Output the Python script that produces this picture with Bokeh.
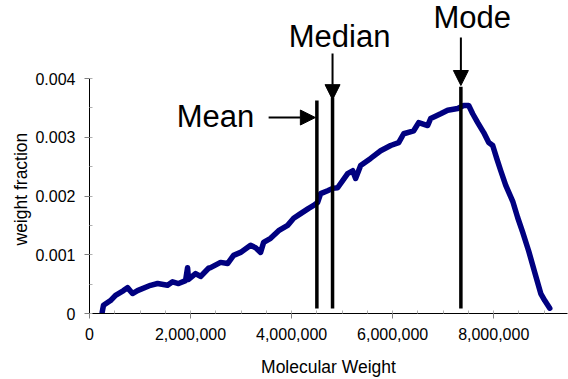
from bokeh.plotting import figure
from bokeh.models import (Range1d, SingleIntervalTicker, CustomJSTickFormatter,
                          Label, Arrow, NormalHead, ColumnDataSource, Title)
from bokeh.embed import file_html
from bokeh.resources import INLINE

# Molecular weight distribution (weight fraction vs molecular weight)
mw = [0.251e6, 0.277e6, 0.416e6, 0.515e6, 0.673e6, 0.752e6, 0.851e6, 0.950e6,
      1.208e6, 1.347e6, 1.545e6, 1.644e6, 1.762e6, 1.901e6, 1.941e6, 1.960e6,
      2.099e6, 2.198e6, 2.356e6, 2.396e6, 2.594e6, 2.733e6, 2.851e6, 2.990e6,
      3.188e6, 3.287e6, 3.386e6, 3.446e6, 3.584e6, 3.743e6, 3.921e6, 4.040e6,
      4.178e6, 4.337e6, 4.436e6, 4.515e6, 4.574e6, 4.713e6, 4.812e6, 4.911e6,
      5.109e6, 5.208e6, 5.267e6, 5.366e6, 5.564e6, 5.762e6, 5.960e6, 6.119e6,
      6.218e6, 6.416e6, 6.515e6, 6.693e6, 6.752e6, 6.950e6, 7.089e6, 7.287e6,
      7.406e6, 7.505e6, 7.584e6, 7.683e6, 7.802e6, 7.901e6, 7.980e6, 8.059e6,
      8.139e6, 8.238e6, 8.376e6, 8.475e6, 8.574e6, 8.693e6, 8.812e6, 8.931e6,
      9.010e6, 9.109e6]
weight_fraction = [0.00002, 0.00014, 0.00022, 0.00031, 0.00039, 0.00044, 0.00034, 0.00039,
                   0.00048, 0.00051, 0.00048, 0.00054, 0.00051, 0.00056, 0.00078, 0.00058,
                   0.00068, 0.00063, 0.00077, 0.00078, 0.00087, 0.00085, 0.00099, 0.00104,
                   0.00116, 0.00112, 0.00104, 0.00121, 0.00128, 0.00141, 0.00150, 0.00162,
                   0.00170, 0.00179, 0.00184, 0.00189, 0.00204, 0.00209, 0.00213, 0.00214,
                   0.00238, 0.00243, 0.00230, 0.00252, 0.00264, 0.00277, 0.00286, 0.00291,
                   0.00306, 0.00311, 0.00325, 0.00320, 0.00332, 0.00340, 0.00346, 0.00349,
                   0.00354, 0.00354, 0.00340, 0.00325, 0.00308, 0.00291, 0.00286, 0.00264,
                   0.00243, 0.00218, 0.00191, 0.00163, 0.00138, 0.00106, 0.00070, 0.00034,
                   0.00022, 0.00009]

# Averages marked on the distribution
stat_names = ["Mean", "Median", "Mode"]
stat_mw = [4.50e6, 4.81e6, 7.35e6]
stat_line_top = [0.003625, 0.003676, 0.003860]
stat_line_bottom = 0.000085

FONT = "Liberation Sans"
Y_AXIS_MAX = 0.004

# The frame runs up to the top edge so the captions above the axis are not clipped;
# the y axis itself is bounded to 0..0.004.
p = figure(width=568, height=379, output_backend="svg", toolbar_location=None,
           x_range=Range1d(0, 9.46e6), y_range=Range1d(0, 0.005328),
           min_border_left=89, min_border_right=1, min_border_top=0,
           min_border_bottom=66, background_fill_color="white",
           border_fill_color="white")
p.outline_line_color = None
p.xgrid.visible = False
p.ygrid.visible = False

p.xaxis.ticker = SingleIntervalTicker(interval=2e6, num_minor_ticks=4)
p.yaxis.ticker = SingleIntervalTicker(interval=0.001, num_minor_ticks=2)
p.yaxis.bounds = (0, Y_AXIS_MAX)
p.xaxis.formatter = CustomJSTickFormatter(code="return tick.toLocaleString('en-US');")
p.yaxis.formatter = CustomJSTickFormatter(
    code="return Math.abs(tick) < 1e-12 ? '0' : tick.toFixed(3);")

for ax in (p.xaxis[0], p.yaxis[0]):
    ax.axis_line_color = "black"
    ax.axis_line_width = 1
    ax.major_tick_line_color = "#808080"
    ax.minor_tick_line_color = "#b0b0b0"
    ax.major_tick_out = 5
    ax.major_tick_in = 0
    ax.minor_tick_out = 0
    ax.minor_tick_in = 3
    ax.major_label_text_font = FONT
    ax.major_label_text_font_size = "16px"
    ax.major_label_text_color = "black"
    ax.axis_label_text_font = FONT
    ax.axis_label_text_font_size = "17.5px"
    ax.axis_label_text_font_style = "normal"
    ax.axis_label_text_color = "black"

p.xaxis.axis_label = "Molecular Weight"
p.xaxis.major_label_standoff = 9
p.yaxis.major_label_standoff = 9
p.xaxis.axis_label_standoff = 14

# y axis caption as a side title, placed against the 0..0.004 part of the axis
p.add_layout(Title(text="weight fraction", align="left", offset=68, standoff=4,
                   text_font=FONT, text_font_size="17.5px", text_font_style="normal",
                   text_color="black"), "left")

src = ColumnDataSource(dict(x=mw, y=weight_fraction))
p.line("x", "y", source=src, line_color="#000080", line_width=5.5,
       line_join="round", line_cap="round")

# Vertical markers for the averages
p.segment(x0=stat_mw, y0=[stat_line_bottom] * 3, x1=stat_mw, y1=stat_line_top,
          line_color="black", line_width=3.5)

# Pointer arrows and their captions
head = dict(size=15, fill_color="black", line_color="black")
p.add_layout(Arrow(end=NormalHead(**head), x_start=3.545e6, y_start=0.003336,
                   x_end=4.47e6, y_end=0.003336, line_width=2))
p.add_layout(Arrow(end=NormalHead(**head), x_start=stat_mw[1], y_start=0.004426,
                   x_end=stat_mw[1], y_end=0.003640, line_width=2))
p.add_layout(Arrow(end=NormalHead(**head), x_start=stat_mw[2], y_start=0.004698,
                   x_end=stat_mw[2], y_end=0.003881, line_width=2))

label_pos = [(2.495e6, 0.003353), (4.950e6, 0.004715), (7.574e6, 0.005038)]
for name, (lx, ly) in zip(stat_names, label_pos):
    p.add_layout(Label(x=lx, y=ly, text=name, text_font=FONT, text_font_size="31px",
                       text_align="center", text_baseline="alphabetic",
                       text_color="black"))

open("out.html", "w").write(file_html(p, INLINE))
